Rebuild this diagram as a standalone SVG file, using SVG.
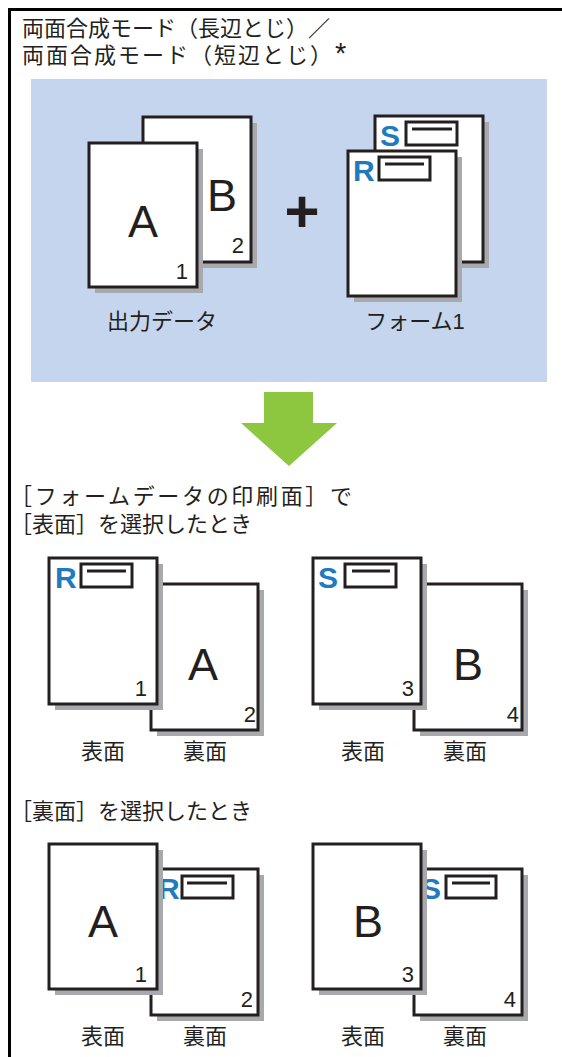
<svg xmlns="http://www.w3.org/2000/svg" width="562" height="1057" viewBox="0 0 562 1057">
<style>
.jp{font-family:"Liberation Sans","Noto Sans CJK JP",sans-serif;font-size:22px;fill:#231f20}
.pg{fill:#ffffff;stroke:#231f20;stroke-width:3}
.sh{fill:#a7a9ac}
.big{font-family:"Liberation Sans",Arial,sans-serif;font-size:45px;fill:#231f20;text-anchor:middle}
.num{font-family:"Liberation Sans",Arial,sans-serif;font-size:22px;fill:#231f20;text-anchor:end}
.mk{font-family:"Liberation Sans",Arial,sans-serif;font-weight:bold;font-size:30px;fill:#1f7bbd}
.bx{fill:#ffffff;stroke:#231f20;stroke-width:3}
.ln{stroke:#231f20;stroke-width:3}
.lbl{text-anchor:middle}
</style>
<rect width="562" height="1057" fill="#ffffff"/>
<g id="frame">
<line x1="8" y1="9.5" x2="562" y2="9.5" stroke="#000" stroke-width="3"/>
<line x1="9.5" y1="8" x2="9.5" y2="1057" stroke="#000" stroke-width="3"/>
</g>
<g id="title">
<text class="jp" x="22" y="36" font-size="23">両面合成モード（長辺とじ）／</text>
<text class="jp" x="22" y="63" font-size="23" textLength="310" lengthAdjust="spacing">両面合成モード（短辺とじ）</text>
<text x="335" y="63" font-family="Liberation Sans,sans-serif" font-size="29" fill="#231f20">*</text>
</g>
<rect id="panel" x="31" y="79" width="516" height="303" fill="#c5d5ee"/>
<g id="output-data">
<rect class="sh" x="149" y="123" width="108" height="145"/>
<rect class="pg" x="143" y="117" width="108" height="145"/>
<text class="big" x="222" y="211">B</text>
<text class="num" x="244" y="253">2</text>
<rect class="sh" x="95" y="149" width="108" height="144"/>
<rect class="pg" x="89" y="143" width="108" height="144"/>
<text class="big" x="143" y="237">A</text>
<text class="num" x="188" y="279">1</text>
<text class="jp lbl" x="162" y="329">出力データ</text>
</g>
<text id="plus" x="302" y="232" font-family="Liberation Sans,sans-serif" font-weight="bold" font-size="60" fill="#231f20" text-anchor="middle">+</text>
<g id="form1">
<rect class="sh" x="381" y="122" width="108" height="146"/>
<rect class="pg" x="375" y="116" width="108" height="146"/>
<text class="mk" x="380" y="146">S</text>
<rect class="bx" x="406" y="122" width="51" height="23"/>
<line class="ln" x1="412" y1="129" x2="452" y2="129"/>
<rect class="sh" x="354" y="157" width="108" height="145"/>
<rect class="pg" x="348" y="151" width="108" height="145"/>
<text class="mk" x="353" y="181">R</text>
<rect class="bx" x="379" y="157" width="51" height="23"/>
<line class="ln" x1="385" y1="164" x2="424" y2="164"/>
<text class="jp lbl" x="415" y="329">フォーム1</text>
</g>
<g id="connectors">
<polygon points="264,392 313,392 313,423 337,423 289,466 241,423 264,423" fill="#8dc63f"/>
</g>
<g id="heading-front">
<text class="jp" x="10" y="504" textLength="342" lengthAdjust="spacing">［フォームデータの印刷面］で</text>
<text class="jp" x="10" y="532">［表面］を選択したとき</text>
</g>
<g id="front-1">
<rect class="sh" x="157" y="590" width="107" height="146"/>
<rect class="pg" x="151" y="584" width="107" height="146"/>
<text class="big" x="203" y="680">A</text>
<text class="num" x="256" y="722">2</text>
<rect class="sh" x="55" y="564" width="108" height="146"/>
<rect class="pg" x="49" y="558" width="108" height="146"/>
<text class="mk" x="55" y="588" font-size="27">R</text>
<rect class="bx" x="81" y="564" width="51" height="23"/>
<line class="ln" x1="87" y1="571" x2="126" y2="571"/>
<text class="num" x="147" y="696">1</text>
<text class="jp lbl" x="103" y="759">表面</text>
<text class="jp lbl" x="205" y="759">裏面</text>
</g>
<g id="front-2">
<rect class="sh" x="420" y="590" width="108" height="146"/>
<rect class="pg" x="414" y="584" width="108" height="146"/>
<text class="big" x="468" y="680">B</text>
<text class="num" x="519" y="722">4</text>
<rect class="sh" x="319" y="564" width="108" height="146"/>
<rect class="pg" x="313" y="558" width="108" height="146"/>
<text class="mk" x="318" y="588" font-size="28">S</text>
<rect class="bx" x="345" y="564" width="51" height="23"/>
<line class="ln" x1="352" y1="571" x2="390" y2="571"/>
<text class="num" x="414" y="696">3</text>
<text class="jp lbl" x="363" y="759">表面</text>
<text class="jp lbl" x="465" y="759">裏面</text>
</g>
<g id="heading-back">
<text class="jp" x="10" y="819">［裏面］を選択したとき</text>
</g>
<g id="back-1">
<rect class="sh" x="157" y="875" width="107" height="146"/>
<rect class="pg" x="151" y="869" width="107" height="146"/>
<text class="mk" x="158" y="899" font-size="28">R</text>
<rect class="bx" x="182" y="876" width="51" height="22"/>
<line class="ln" x1="187" y1="883" x2="227" y2="883"/>
<text class="num" x="253" y="1007">2</text>
<rect class="sh" x="55" y="850" width="108" height="145"/>
<rect class="pg" x="49" y="844" width="108" height="145"/>
<text class="big" x="103" y="937">A</text>
<text class="num" x="147" y="982">1</text>
<text class="jp lbl" x="103" y="1044">表面</text>
<text class="jp lbl" x="205" y="1044">裏面</text>
</g>
<g id="back-2">
<rect class="sh" x="420" y="875" width="108" height="146"/>
<rect class="pg" x="414" y="869" width="108" height="146"/>
<text class="mk" x="421" y="899" font-size="28">S</text>
<rect class="bx" x="446" y="876" width="50" height="22"/>
<line class="ln" x1="452" y1="883" x2="490" y2="883"/>
<text class="num" x="516" y="1007">4</text>
<rect class="sh" x="319" y="850" width="108" height="145"/>
<rect class="pg" x="313" y="844" width="108" height="145"/>
<text class="big" x="368" y="937">B</text>
<text class="num" x="414" y="982">3</text>
<text class="jp lbl" x="363" y="1044">表面</text>
<text class="jp lbl" x="465" y="1044">裏面</text>
</g>
</svg>
